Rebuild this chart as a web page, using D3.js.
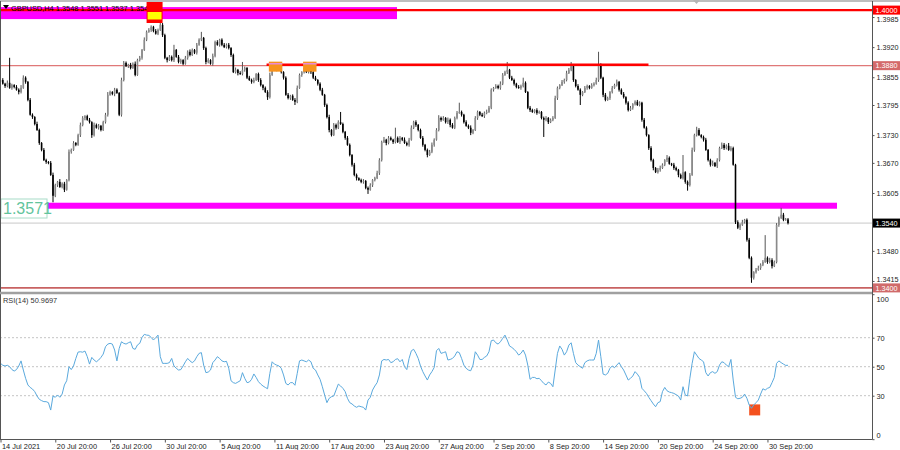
<!DOCTYPE html>
<html><head><meta charset="utf-8">
<script src="https://cdn.jsdelivr.net/npm/d3@7"></script>
<style>
body{margin:0;background:#fff}
svg{display:block}
text{font-family:"Liberation Sans",Arial,sans-serif}
</style></head>
<body><svg id="c" width="900" height="450"></svg>
<script>
// ---------- DATA ----------
const symbolTitle = "GBPUSD,H4  1.3548 1.3551 1.3537 1.3540";
const rsiTitle = "RSI(14) 50.9697";
const firstOpen = 1.3845;
const closes = [
1.3849,1.3841,1.3836,1.3843,1.3832,1.3838,1.3834,1.3828,1.3823,1.3832,
1.3854,1.3845,1.3806,1.3774,1.3769,1.3754,1.3741,1.3713,1.3698,1.3676,
1.3672,1.3670,1.3644,1.3599,1.3622,1.3629,1.3618,1.3625,1.3612,1.3633,
1.3694,1.3698,1.3713,1.3709,1.3730,1.3752,1.3767,1.3771,1.3763,1.3758,
1.3730,1.3752,1.3746,1.3750,1.3741,1.3758,1.3774,1.3817,1.3823,1.3819,
1.3828,1.3821,1.3774,1.3849,1.3886,1.3879,1.3882,1.3875,1.3884,1.3860,
1.3892,1.3897,1.3914,1.3936,1.3953,1.3957,1.3964,1.3955,1.3949,1.3957,
1.3968,1.3946,1.3897,1.3892,1.3899,1.3892,1.3914,1.3899,1.3888,1.3892,
1.3884,1.3897,1.3910,1.3903,1.3914,1.3908,1.3925,1.3936,1.3940,1.3918,
1.3888,1.3892,1.3884,1.3901,1.3931,1.3925,1.3936,1.3925,1.3920,1.3925,
1.3918,1.3903,1.3866,1.3871,1.3864,1.3862,1.3871,1.3875,1.3854,1.3849,
1.3845,1.3849,1.3862,1.3849,1.3838,1.3832,1.3823,1.3812,1.3860,1.3879,
1.3875,1.3871,1.3879,1.3866,1.3854,1.3817,1.3810,1.3815,1.3806,1.3802,
1.3832,1.3860,1.3866,1.3871,1.3866,1.3873,1.3866,1.3854,1.3849,1.3841,
1.3828,1.3817,1.3795,1.3769,1.3741,1.3730,1.3752,1.3746,1.3758,1.3754,
1.3737,1.3724,1.3709,1.3687,1.3666,1.3644,1.3637,1.3633,1.3629,1.3631,
1.3616,1.3612,1.3622,1.3633,1.3637,1.3648,1.3676,1.3715,1.3720,1.3713,
1.3724,1.3720,1.3715,1.3724,1.3715,1.3724,1.3720,1.3713,1.3709,1.3720,
1.3746,1.3758,1.3752,1.3741,1.3724,1.3709,1.3698,1.3687,1.3694,1.3709,
1.3720,1.3741,1.3767,1.3763,1.3767,1.3758,1.3763,1.3752,1.3746,1.3767,
1.3778,1.3780,1.3774,1.3758,1.3750,1.3746,1.3735,1.3741,1.3767,1.3780,
1.3774,1.3771,1.3778,1.3780,1.3789,1.3828,1.3832,1.3836,1.3832,1.3841,
1.3860,1.3866,1.3871,1.3854,1.3849,1.3841,1.3834,1.3832,1.3836,1.3843,
1.3823,1.3789,1.3784,1.3780,1.3784,1.3778,1.3780,1.3767,1.3763,1.3767,
1.3758,1.3763,1.3767,1.3810,1.3832,1.3838,1.3845,1.3849,1.3864,1.3871,
1.3879,1.3849,1.3836,1.3828,1.3817,1.3823,1.3832,1.3836,1.3832,1.3838,
1.3841,1.3849,1.3882,1.3854,1.3817,1.3806,1.3810,1.3823,1.3832,1.3838,
1.3845,1.3828,1.3819,1.3812,1.3800,1.3784,1.3789,1.3797,1.3802,1.3795,
1.3800,1.3763,1.3746,1.3730,1.3702,1.3676,1.3659,1.3650,1.3655,1.3659,
1.3666,1.3676,1.3681,1.3668,1.3666,1.3659,1.3655,1.3644,1.3637,1.3650,
1.3629,1.3622,1.3644,1.3698,1.3730,1.3741,1.3730,1.3726,1.3720,1.3698,
1.3676,1.3666,1.3670,1.3663,1.3676,1.3702,1.3709,1.3702,1.3707,1.3698,
1.3702,1.3666,1.3542,1.3530,1.3536,1.3542,1.3547,1.3504,1.3465,1.3422,
1.3434,1.3439,1.3443,1.3450,1.3456,1.3465,1.3456,1.3460,1.3447,1.3456,
1.3536,1.3551,1.3558,1.3547,1.3548,1.3540];
// wick lengths in pips above max(open,close) and below min(open,close)
const wickUp = [
3,4,2,5,54,3,2,4,3,6,5,3,2,4,3,2,5,3,2,4,
3,2,4,5,3,2,6,3,4,2,5,3,4,2,3,5,4,2,3,4,
2,5,3,4,2,3,4,6,3,2,4,3,2,5,4,3,2,4,3,5,
3,4,2,5,3,4,3,2,4,3,15,4,3,2,4,3,11,2,4,3,
2,4,3,5,3,2,4,3,13,2,3,4,2,5,3,4,2,3,4,3,
4,2,3,5,2,4,17,3,2,4,3,5,2,3,4,2,3,4,5,3,
2,4,3,5,2,3,4,2,3,4,5,3,2,4,3,6,2,3,4,2,
3,4,2,3,5,2,4,3,4,22,3,2,4,3,2,4,3,2,3,4,
2,3,4,2,3,5,4,3,6,2,4,3,2,22,3,4,2,5,3,4,
5,3,4,2,3,4,2,3,4,5,3,4,6,3,4,2,5,3,4,3,
4,20,3,2,4,3,5,2,4,3,2,4,3,5,4,3,2,4,3,5,
4,3,17,2,4,3,2,4,3,11,3,2,4,3,2,4,3,2,3,4,
2,3,4,5,3,2,4,3,5,4,9,3,2,4,3,2,4,3,2,4,
3,5,28,3,2,4,3,2,4,3,5,2,3,4,2,3,4,2,3,4,
3,2,4,3,2,4,3,2,4,5,3,2,6,3,2,4,3,2,3,37,
2,3,4,5,3,7,4,2,3,4,2,3,5,2,4,3,5,4,3,6,
4,3,2,4,3,5,2,3,4,3,2,4,5,3,4,49,3,5,4,3,
4,3,15,4,3,3];
const wickDown = [
3,2,4,3,2,4,3,2,5,3,2,4,3,2,4,3,2,4,3,2,
4,3,2,14,3,4,2,3,5,2,3,4,2,3,2,4,3,5,2,3,
6,3,2,4,3,2,3,4,2,3,5,2,3,4,3,2,4,3,2,3,
2,3,4,2,3,2,4,3,2,3,2,4,3,5,2,3,4,2,3,4,
3,2,4,3,2,3,4,2,3,4,5,3,2,4,3,2,4,3,2,3,
3,4,2,3,5,2,3,4,3,2,4,3,2,4,3,5,2,6,3,2,
4,3,2,3,4,2,3,4,2,7,3,2,4,3,2,3,4,3,2,4,
3,2,4,3,5,3,2,4,3,2,3,4,2,3,4,3,5,2,3,4,
3,9,2,4,3,2,4,3,2,5,3,2,4,3,2,4,3,2,3,4,
2,3,4,3,2,4,3,5,2,3,4,2,3,4,2,3,4,5,2,3,
3,2,4,3,2,3,5,3,2,4,3,2,4,3,2,3,4,2,3,4,
3,2,4,3,2,4,3,2,4,3,2,3,4,2,3,4,2,3,37,3,
4,2,3,2,4,3,2,4,3,2,3,4,3,2,22,3,2,4,3,2,
3,2,4,3,5,3,2,4,3,2,3,4,2,3,4,3,2,4,3,2,
3,4,2,3,4,3,5,2,3,4,2,3,4,2,3,4,3,5,2,3,
4,12,3,2,4,3,2,3,4,2,3,4,3,2,4,3,2,4,3,2,
3,2,4,3,5,2,3,4,3,11,4,3,2,4,3,2,4,3,5,2,
3,4,2,3,2,3];
const rsiValues = [
52.3,51,50.5,51,50,48,47,48,50.5,54,
47.7,42,37.4,35.7,34.6,32.8,29.8,27.5,26.6,25.9,
25.9,25.2,20.1,29.8,28.9,30.5,28.9,31.1,37.4,40.3,
50,48,50.5,55.7,60.1,60.3,60,60.8,57,51.8,
56.4,54.6,53.4,54.6,56.4,58.7,63.8,65.6,66.1,65.6,
61.5,54,62.6,67.2,66.1,65.6,66.5,67.2,62.6,62,
65,66.1,70.2,72.3,71.8,71.6,70.2,68.4,70,71.8,
56.9,52.3,52.3,52.3,52.8,55.7,50.5,48.9,47.7,48,
50.5,53.4,55.7,54,52.8,54,56.9,59.2,59.7,51.1,
45.9,46.3,47.7,52.8,54.6,56.9,55.7,54,53.4,53.7,
48.9,40.3,39,38.5,39.4,40.3,45.9,42,39,39.4,
41.3,45,42.6,39.7,38,36.7,35.7,34.8,45.4,53.4,
51.8,51.1,50.5,48.9,44.3,38.5,37.4,39,39,37.2,
45.4,54,54.6,54,53.4,54.6,53.4,48.9,47.7,44.3,
41.3,36.2,30.5,25.2,28.2,29.3,29.8,33.9,38,36.7,
35.1,32.8,28.2,25.2,24.3,22.9,22,22.9,22.4,22,
20.1,27,28.9,33.9,36.7,39,44.3,54,55,54.6,
55,52.8,53.4,55,55.5,53.4,55,50,48,55.7,
61,62,59.2,55.7,50.5,46.6,43.6,40.8,44.3,46.6,
49.5,61,62.6,59.2,59.7,60.3,54.6,55,55.7,57.4,
60.3,59.7,55.7,51.1,48.9,47.7,47.2,51.1,60.3,58,
55,55,56.4,57.4,60.3,67.9,68.4,66.5,65.6,67.2,
69.5,71.8,68.4,64.3,63.3,62,60.3,58,59.2,61.5,
58,51.1,41.3,42.6,42.6,41.7,42,40.3,38.5,37.4,
39.4,38.5,36.2,47.7,59.2,64.3,62,58,60.3,64.9,
66.5,59.2,52.8,51.1,50,48.9,52.8,54,54.6,54.6,
54.6,59.2,68.4,56.9,44.9,44.3,45.4,48.9,50.5,49.3,
51.1,52.8,50,47.7,44.3,40.8,42,43.6,46.6,44.9,
42.6,35.1,33.4,31.6,28.9,26.6,24.3,22.4,25.2,25.9,
32.8,35.7,33.4,32.5,32.1,31.6,30.7,29.8,27,36.2,
30.5,29.8,42,52.3,60.3,58,55.7,54.6,53.4,45.9,
43.6,45.9,46.6,45.4,46.6,51.1,53.4,52.8,51.1,50,
55,40.8,28.9,27.9,28.2,28.9,31.1,28.2,23.6,21.3,
23.6,25.2,27,31.1,34.8,33.9,35.1,35.7,39,42.6,
52.3,54,52.8,51.8,50.9,50.9697];
const priceTicks = [1.3985,1.3920,1.3855,1.3795,1.3730,1.3670,1.3605,1.3480,1.3415];
const rsiTicks = [100,70,50,30,0];
const rsiLevels = [70,50,30];
const timeLabels = ["14 Jul 2021","20 Jul 20:00","26 Jul 20:00","30 Jul 20:00","5 Aug 20:00",
 "11 Aug 20:00","17 Aug 20:00","23 Aug 20:00","27 Aug 20:00","2 Sep 20:00","8 Sep 20:00",
 "14 Sep 20:00","20 Sep 20:00","24 Sep 20:00","30 Sep 20:00"];
const firstBarTime = Date.UTC(2021,6,14,20,0);
const resistanceHigh = 1.4000, resistanceMid = 1.3880, supportLevel = 1.3571, bottomLevel = 1.3400;
const currentPrice = 1.3540;
const markerBarsTop = [64,71];
const markerBarsOrange = [[118,123],[133,138]];
const rsiMarkerBars = [328,332];
const midLineBars = [117,283];

// ---------- SCALES ----------
const PIP = 0.0001, N = closes.length;
const svg = d3.select("#c");
const axisX = 872.5;
const x = d3.scaleLinear().domain([0, N-1]).range([0.5, 788]);
const yP = d3.scaleLinear().domain([1.34, 1.40]).range([287.9, 10.1]);
const yR = d3.scaleLinear().domain([0, 100]).range([439.2, 294.2]);

const dates = [];
for (let t = firstBarTime; dates.length < N; t += 4*3600e3) {
  const d = new Date(t); const wd = d.getUTCDay();
  if (wd !== 0 && wd !== 6) dates.push(d);
}
const fmt = d3.utcFormat("%-d %b %H:%M"), fmtY = d3.utcFormat("%-d %b %Y");
const tickIdx = timeLabels.map(l => dates.findIndex(d => fmt(d) === l || fmtY(d) === l));

const bars = closes.map((c,i) => {
  const o = i ? closes[i-1] : firstOpen;
  return {i, o, c, hi: Math.max(o,c) + wickUp[i]*PIP, lo: Math.min(o,c) - wickDown[i]*PIP};
});

svg.append("defs").append("clipPath").attr("id","mainClip")
  .append("rect").attr("x",0).attr("y",2).attr("width",axisX).attr("height",289);

const main = svg.append("g").attr("clip-path","url(#mainClip)");

main.append("line").attr("x1",0).attr("x2",axisX).attr("y1",yP(currentPrice)).attr("y2",yP(currentPrice))
  .attr("stroke","#c8c8c8").attr("stroke-width",1);
main.append("line").attr("x1",0).attr("x2",axisX).attr("y1",yP(bottomLevel)).attr("y2",yP(bottomLevel))
  .attr("stroke","#c86262").attr("stroke-width",1.6);
main.append("line").attr("x1",0).attr("x2",axisX).attr("y1",yP(resistanceMid)).attr("y2",yP(resistanceMid))
  .attr("stroke","#e07878").attr("stroke-width",1.2);
main.append("rect").attr("x",0).attr("y",yP(resistanceHigh)-3).attr("width",397).attr("height",12).attr("fill","#ff00ff");
main.append("rect").attr("x",47).attr("y",yP(supportLevel)-6).attr("width",837-47).attr("height",6).attr("fill","#ff00ff");

// candles
const cg = main.append("g");
cg.selectAll("line.w").data(bars).join("line").attr("class","w")
  .attr("x1",d=>x(d.i)).attr("x2",d=>x(d.i)).attr("y1",d=>yP(d.hi)).attr("y2",d=>yP(d.lo))
  .attr("stroke",d=>d.c>=d.o?"#555":"#000").attr("stroke-width",1);
cg.selectAll("rect.b").data(bars).join("rect").attr("class","b")
  .attr("x",d=>x(d.i)-0.8).attr("width",1.6)
  .attr("y",d=>yP(Math.max(d.o,d.c))).attr("height",d=>Math.max(0.8, Math.abs(yP(d.o)-yP(d.c))))
  .attr("fill",d=>d.c>=d.o?"#8a8a8a":"#000");

main.append("line").attr("x1",0).attr("x2",axisX).attr("y1",yP(resistanceHigh)).attr("y2",yP(resistanceHigh))
  .attr("stroke","#ff0000").attr("stroke-width",2.2);
main.append("line").attr("x1",x(midLineBars[0])-1).attr("x2",x(midLineBars[1])+2)
  .attr("y1",yP(resistanceMid)-1).attr("y2",yP(resistanceMid)-1)
  .attr("stroke","#ff0000").attr("stroke-width",2.5);
markerBarsOrange.forEach(([a,b]) => {
  main.append("rect").attr("x",x(a)-1).attr("y",yP(resistanceMid)-4).attr("width",x(b)-x(a)+2).attr("height",10).attr("fill","#f7931e");
  main.append("line").attr("x1",x(a)-1).attr("x2",x(b)+1).attr("y1",yP(resistanceMid)-2).attr("y2",yP(resistanceMid)-2)
    .attr("stroke","#e98ad6").attr("stroke-width",1.5);
});

// title
svg.append("path").attr("d","M3,5 L9,5 L6,9 Z").attr("fill","#000");
svg.append("text").attr("x",11).attr("y",10.5).attr("font-size",7.4).attr("fill","#000").text(symbolTitle);
svg.append("rect").attr("x",x(markerBarsTop[0])).attr("y",2).attr("width",x(markerBarsTop[1])-x(markerBarsTop[0])).attr("height",21).attr("fill","#ff0000");
svg.append("rect").attr("x",x(markerBarsTop[0])+1).attr("y",12).attr("width",x(markerBarsTop[1])-x(markerBarsTop[0])-2).attr("height",7.5).attr("fill","#ffff00");

// support label box
svg.append("rect").attr("x",1).attr("y",199).attr("width",46).attr("height",19).attr("fill","#fff")
  .attr("stroke","#a8dcc8").attr("stroke-width",1);
svg.append("text").attr("x",3).attr("y",214).attr("font-size",16).attr("fill","#62c49c").text(supportLevel.toFixed(4));

// ---------- RSI ----------
const rg = svg.append("g");
rsiLevels.forEach(v => rg.append("line").attr("x1",0).attr("x2",axisX).attr("y1",yR(v)).attr("y2",yR(v))
  .attr("stroke","#c4c4c4").attr("stroke-dasharray","2,2").attr("stroke-width",1));
rg.append("rect").attr("x",x(rsiMarkerBars[0])).attr("y",yR(24)).attr("width",11).attr("height",11).attr("fill","#f4511e");
rg.append("path").datum(rsiValues)
  .attr("d", d3.line().x((d,i)=>x(i)).y(d=>yR(d)))
  .attr("fill","none").attr("stroke","#5aa9dd").attr("stroke-width",1);
svg.append("text").attr("x",3).attr("y",303).attr("font-size",7.4).attr("fill","#333").text(rsiTitle);

// ---------- FRAME ----------
svg.append("line").attr("x1",0).attr("x2",900).attr("y1",1).attr("y2",1).attr("stroke","#a8a8a8").attr("stroke-width",1.5);
svg.append("path").attr("d","M693,0 L700,0 L696.5,4 Z").attr("fill","#b5b5b5");
svg.append("line").attr("x1",0.5).attr("x2",0.5).attr("y1",1).attr("y2",439.5).attr("stroke","#555");
svg.append("line").attr("x1",0).attr("x2",axisX).attr("y1",293).attr("y2",293).attr("stroke","#a0a0a0").attr("stroke-width",2.6);
svg.append("line").attr("x1",axisX).attr("x2",axisX).attr("y1",1).attr("y2",439.5).attr("stroke","#555");
svg.append("line").attr("x1",0).attr("x2",axisX).attr("y1",439.5).attr("y2",439.5).attr("stroke","#555");

// price axis
const pa = svg.append("g").attr("transform",`translate(${axisX},0)`)
  .call(d3.axisRight(yP).tickValues(priceTicks).tickSize(2).tickPadding(2).tickFormat(d3.format(".4f")));
pa.select(".domain").remove();
pa.selectAll("text").attr("font-size",7.2).attr("fill","#222").attr("font-family","Liberation Sans, Arial")
  .attr("dy", d => d === 1.3985 ? "0.55em" : d === 1.3415 ? "0.1em" : "0.32em");
pa.selectAll("line").attr("stroke","#555");

// price label boxes
[[resistanceHigh,"#ff0000"],[resistanceMid,"#d46a6a"],[currentPrice,"#000"],[bottomLevel,"#d06a6a"]].forEach(([p,col])=>{
  svg.append("rect").attr("x",axisX+0.5).attr("y",yP(p)-4.5).attr("width",27).attr("height",9).attr("fill",col);
  svg.append("text").attr("x",axisX+3).attr("y",yP(p)+2.6).attr("font-size",7.2).attr("fill","#fff").text(p.toFixed(4));
});

// RSI axis
const ra = svg.append("g").attr("transform",`translate(${axisX},0)`)
  .call(d3.axisRight(yR).tickValues(rsiTicks).tickSize(2).tickPadding(2));
ra.select(".domain").remove();
ra.selectAll("text").attr("font-size",7.4).attr("fill","#222").attr("font-family","Liberation Sans, Arial")
  .attr("dy",d=> d===100 ? "0.95em" : d===0 ? "-0.2em" : "0.32em");
ra.selectAll("line").attr("stroke","#555");

// time axis
const ta = svg.append("g").attr("transform","translate(0,439.5)")
  .call(d3.axisBottom(x).tickValues(tickIdx).tickSize(3).tickPadding(1)
    .tickFormat((d,k)=>timeLabels[k]));
ta.select(".domain").remove();
ta.selectAll("text").attr("font-size",7.4).attr("fill","#222").attr("text-anchor","start")
  .attr("font-family","Liberation Sans, Arial").attr("x",1);
ta.selectAll("line").attr("stroke","#555");
</script></body></html>
